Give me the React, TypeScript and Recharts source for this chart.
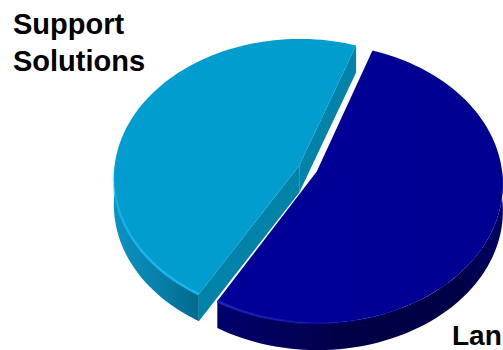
import { Pie, PieChart } from "recharts";

const WIDTH = 503;
const HEIGHT = 350;

const SEGMENTS = ["Support Solutions", "Lan"];
const SHARES = [47, 53];
const LABEL_SUPPORT = ["Support", "Solutions"];
const LABEL_LAN = "Lan";

const data = SEGMENTS.map((name, i) => ({ name, value: SHARES[i] }));

// camera for the tilted disc
const ORIGIN_X = 308;
const ORIGIN_Y = 168.5;
const RADIUS_X = 185;
const RADIUS_Y = 138;
const PERSPECTIVE = 0.086;
const DEPTH = 27;
const EXPLODE = 0.052;

type Pt = { x: number; y: number };

const RAD = Math.PI / 180;

const project = (u: number, v: number, drop = 0): Pt => {
  const k = 1 / (1 - PERSPECTIVE * v);
  return { x: ORIGIN_X + RADIUS_X * u * k, y: ORIGIN_Y + RADIUS_Y * v * k + drop };
};

const toPath = (pts: Pt[], close = true) =>
  pts.map((p, i) => `${i ? "L" : "M"}${p.x.toFixed(2)} ${p.y.toFixed(2)}`).join(" ") + (close ? " Z" : "");

const THEMES: Record<string, { top: string; wall: string; face: string; rim: string }> = {
  "Support Solutions": { top: "#019dcf", wall: "url(#supportWall)", face: "#0082a9", rim: "url(#supportRim)" },
  Lan: { top: "url(#lanTop)", wall: "url(#lanWall)", face: "#00005e", rim: "url(#lanRim)" },
};

// Recharts hands over the slice angles; the slice is redrawn on the tilted disc
function Slice3D(props: any) {
  const { startAngle, endAngle, name, payload } = props;
  const theme = THEMES[name ?? payload?.name];
  const mid = ((startAngle + endAngle) / 2) * RAD;
  const offU = Math.cos(mid) * EXPLODE;
  const offV = -Math.sin(mid) * EXPLODE;

  const at = (deg: number, drop = 0) => project(offU + Math.cos(deg * RAD), offV - Math.sin(deg * RAD), drop);
  const apex = (drop = 0) => project(offU, offV, drop);

  const arc = (from: number, to: number, drop = 0) => {
    const steps = Math.max(2, Math.ceil(Math.abs(from - to) / 2));
    const pts: Pt[] = [];
    for (let i = 0; i <= steps; i++) pts.push(at(from + ((to - from) * i) / steps, drop));
    return pts;
  };

  // slices run clockwise, so startAngle > endAngle; the front of the disc sits below 0 / above 180
  const frontParts: [number, number][] = [];
  if (endAngle < 0) frontParts.push([Math.min(startAngle, 0), endAngle]);
  if (startAngle > 180) frontParts.push([startAngle, Math.max(endAngle, 180)]);

  // cut faces: only edges heading left on screen face the camera
  const faces: Pt[][] = [];
  const rimEnd = at(endAngle);
  const rimStart = at(startAngle);
  if (apex().x < rimEnd.x) {
    faces.push([rimEnd, apex(), apex(DEPTH), at(endAngle, DEPTH)]);
  }
  if (rimStart.x < apex().x) {
    faces.push([apex(), rimStart, at(startAngle, DEPTH), apex(DEPTH)]);
  }

  return (
    <g>
      {frontParts.map(([a, b]) => (
        <path key={`w${a}`} d={toPath([...arc(a, b), ...arc(b, a, DEPTH)])} fill={theme.wall} />
      ))}
      {faces.map((pts, i) => (
        <path key={`f${i}`} d={toPath(pts)} fill={theme.face} />
      ))}
      <path d={toPath([apex(), ...arc(startAngle, endAngle)])} fill={theme.top} />
      {frontParts.map(([a, b]) => (
        <path
          key={`r${a}`}
          d={toPath(arc(a, b), false)}
          fill="none"
          stroke={theme.rim}
          strokeWidth={2.5}
          filter="url(#soften)"
        />
      ))}
    </g>
  );
}

const labelStyle = {
  fontFamily: '"Liberation Sans", Arial, sans-serif',
  fontWeight: 700,
  fontSize: 29,
  fill: "#000",
};

export default function App() {
  return (
    <div style={{ position: "absolute", left: 0, top: 0, width: WIDTH, height: HEIGHT }}>
      <PieChart width={WIDTH} height={HEIGHT} margin={{ top: 0, right: 0, bottom: 0, left: 0 }}>
        <defs>
          <filter id="soften" x="-5%" y="-5%" width="110%" height="110%">
            <feGaussianBlur stdDeviation="0.7" />
          </filter>
          <linearGradient id="supportWall" x1="0" y1="0" x2="1" y2="0">
            <stop offset="0%" stopColor="#0a93c4" />
            <stop offset="55%" stopColor="#077fa8" />
            <stop offset="100%" stopColor="#006a8c" />
          </linearGradient>
          <linearGradient id="lanWall" x1="0" y1="0" x2="1" y2="0">
            <stop offset="0%" stopColor="#00006e" />
            <stop offset="45%" stopColor="#000046" />
            <stop offset="85%" stopColor="#000048" />
            <stop offset="100%" stopColor="#000066" />
          </linearGradient>
          <linearGradient id="lanTop" x1="0" y1="0" x2="1" y2="0">
            <stop offset="0%" stopColor="#00009a" />
            <stop offset="100%" stopColor="#000090" />
          </linearGradient>
          {/* rim highlights fade out towards the silhouette */}
          <linearGradient id="supportRim" x1="0" y1="1" x2="0" y2="0">
            <stop offset="0%" stopColor="#1fb6ee" />
            <stop offset="60%" stopColor="#18aee6" />
            <stop offset="100%" stopColor="#18aee6" stopOpacity={0} />
          </linearGradient>
          <linearGradient id="lanRim" x1="0" y1="0" x2="1" y2="0">
            <stop offset="0%" stopColor="#2424b8" />
            <stop offset="35%" stopColor="#0e0ea6" stopOpacity={0.7} />
            <stop offset="70%" stopColor="#000090" stopOpacity={0} />
            <stop offset="100%" stopColor="#000090" stopOpacity={0} />
          </linearGradient>
        </defs>
        <Pie
          data={data}
          dataKey="value"
          nameKey="name"
          cx={ORIGIN_X}
          cy={ORIGIN_Y}
          outerRadius={RADIUS_X}
          startAngle={240}
          endAngle={-120}
          stroke="none"
          labelLine={false}
          shape={Slice3D}
          isAnimationActive={false}
        />
        <text x={13} y={34} style={labelStyle}>
          {LABEL_SUPPORT[0]}
        </text>
        <text x={13} y={71} style={labelStyle}>
          {LABEL_SUPPORT[1]}
        </text>
        <text x={452} y={345} style={{ ...labelStyle, fontSize: 28 }}>
          {LABEL_LAN}
        </text>
      </PieChart>
    </div>
  );
}
